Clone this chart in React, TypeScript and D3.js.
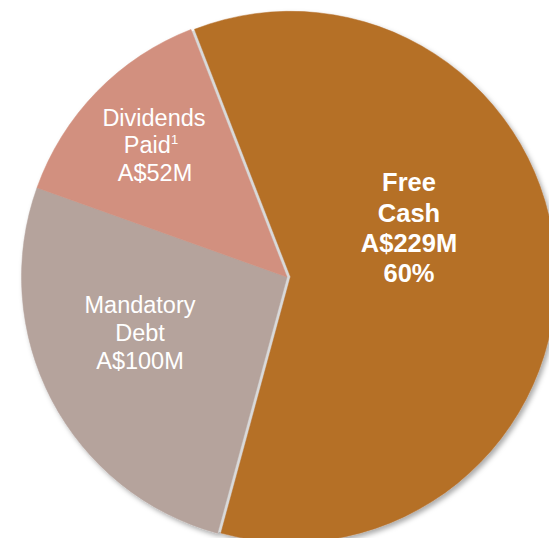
import React from "react";
import * as d3 from "d3";

const categories = ["Free Cash", "Mandatory Debt", "Dividends Paid"];
const values = [229, 100, 52];
const colors = ["#B56F28", "#B5A39C", "#D2907F"];
const explode = [3.5, 0, 0];

const W = 549;
const H = 538;
const cx = 287;
const cy = 277;
const R = 265.5;
const startDeg = -21.2;

export default function App() {
  const pie = d3
    .pie<number>()
    .sort(null)
    .value((d) => d)
    .startAngle((startDeg * Math.PI) / 180)
    .endAngle((startDeg * Math.PI) / 180 + 2 * Math.PI);
  const arcs = pie(values);
  const arc = d3.arc<d3.PieArcDatum<number>>().innerRadius(0).outerRadius(R);
  const total = d3.sum(values);
  const pct = Math.round((values[0] / total) * 100);

  const font = "'Liberation Sans', Arial, Helvetica, sans-serif";

  return (
    <svg
      width={W}
      height={H}
      style={{ position: "absolute", left: 0, top: 0, display: "block" }}
    >
      <defs>
        <filter id="sh" x="-10%" y="-10%" width="120%" height="120%">
          <feDropShadow dx="2.5" dy="3" stdDeviation="2.5" floodColor="#000" floodOpacity="0.33" />
        </filter>
      </defs>
      <rect width={W} height={H} fill="#fff" />
      <g transform={`translate(${cx},${cy})`} filter="url(#sh)">
        <circle r={R - 2} fill="#D9D9D9" />
        {arcs.map((a, i) => {
          const mid = (a.startAngle + a.endAngle) / 2;
          const ox = Math.sin(mid) * explode[i];
          const oy = -Math.cos(mid) * explode[i];
          return (
            <path
              key={categories[i]}
              transform={`translate(${ox},${oy})`}
              d={arc(a) || ""}
              fill={colors[i]}
              stroke={colors[i]}
              strokeWidth={0.5}
            />
          );
        })}
      </g>
      <g fontFamily={font} fill="#fff" textAnchor="middle">
        <text fontSize={25.5} fontWeight="bold">
          <tspan x={409} y={191}>Free</tspan>
          <tspan x={409} y={221.5}>Cash</tspan>
          <tspan x={409} y={252}>{`A$${values[0]}M`}</tspan>
          <tspan x={409} y={282}>{`${pct}%`}</tspan>
        </text>
        <text fontSize={23.5}>
          <tspan x={154} y={125.5}>Dividends</tspan>
          <tspan x={151} y={153}>Paid</tspan>
          <tspan fontSize={13} dy={-9}>1</tspan>
          <tspan x={155} y={181}>{`A$${values[2]}M`}</tspan>
        </text>
        <text fontSize={23.5}>
          <tspan x={140} y={313}>Mandatory</tspan>
          <tspan x={140} y={341}>Debt</tspan>
          <tspan x={140} y={369}>{`A$${values[1]}M`}</tspan>
        </text>
      </g>
    </svg>
  );
}
